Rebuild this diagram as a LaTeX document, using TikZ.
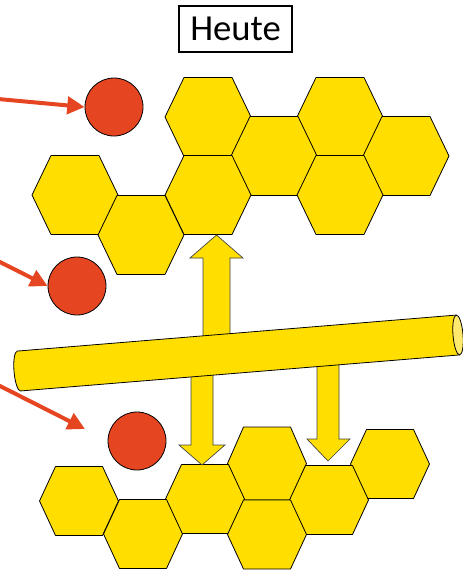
\documentclass[tikz,border=0pt]{standalone}
\usepackage{fontspec}
\newfontfamily\titlefont{Carlito}
\usetikzlibrary{arrows.meta}

\definecolor{honey}{RGB}{255,222,0}
\definecolor{honeycap}{RGB}{255,234,110}
\definecolor{ballred}{RGB}{230,69,34}

\tikzset{
  cell/.style={fill=honey, draw=black, line width=0.6pt, line join=round},
  blockarrow/.style={fill=honey, draw=black!75, line width=0.5pt, line join=miter},
  ball/.style={circle, fill=ballred, draw=black, line width=0.6pt, minimum size=43.5pt, inner sep=0pt},
  feed/.style={draw=ballred, line width=3pt, -{Triangle[length=13pt,width=13pt]}},
  uppercell/.pic={\path[cell] (-43,0) -- (-24,-39.5) -- (24,-39.5) -- (43,0) -- (24,39.5) -- (-24,39.5) -- cycle;},
  lowercell/.pic={\path[cell] (-39.5,0) -- (-23.5,-34.5) -- (23.5,-34.5) -- (39.5,0) -- (23.5,34.5) -- (-23.5,34.5) -- cycle;}
}

\begin{document}
\begin{tikzpicture}[x=0.75pt, y=-0.75pt]
  \useasboundingbox (0,0) rectangle (462,571);

  % upper honeycomb
  \pic at (208,117) {uppercell};
  \pic at (340,117) {uppercell};
  \pic at (274,156) {uppercell};
  \pic at (406,156) {uppercell};
  \pic at (75,195)  {uppercell};
  \pic at (208,195) {uppercell};
  \pic at (340,195) {uppercell};
  \pic at (141,235) {uppercell};

  % lower honeycomb
  \pic[yscale=1.058] at (267,463.5) {lowercell};
  \pic at (390,464) {lowercell};
  \pic at (79,501)  {lowercell};
  \pic at (205,499) {lowercell};
  \pic at (329,500) {lowercell};
  \pic at (143,534) {lowercell};
  \pic at (267,534.5) {lowercell};

  % block arrows to and from the tube
  \path[blockarrow] (203,345) -- (203,258) -- (190,258) -- (216.5,235)
        -- (243,258) -- (230,258) -- (230,345) -- cycle;
  \path[blockarrow] (191,365) -- (191,445) -- (179,445) -- (202,465)
        -- (225,445) -- (213,445) -- (213,365) -- cycle;
  \path[blockarrow] (317,355) -- (317,439) -- (307,439) -- (328,461)
        -- (350,439) -- (339,439) -- (339,355) -- cycle;

  % the tube
  \begin{scope}[shift={(19,371)}, rotate=4.69]
    \path[fill=honey, draw=black, line width=0.6pt] (0,0) ellipse [x radius=5, y radius=20];
    \fill[honey] (0,-20) rectangle (440.5,20);
    \draw[line width=0.6pt] (0,-20) -- (440.5,-20) (0,20) -- (440.5,20);
    \path[fill=honeycap, draw=black, line width=0.6pt] (440.5,0) ellipse [x radius=5, y radius=20];
  \end{scope}

  % balls
  \node[ball] (c1) at (114,107) {};
  \node[ball] (c2) at (77,286) {};
  \node[ball] (c3) at (137,441) {};

  % incoming arrows
  \coordinate (s1) at (-2,99);
  \coordinate (s2) at (-2,261);
  \coordinate (s3) at (-2,385);
  \coordinate (t3) at (85,429);
  \draw[feed] (s1) -- (c1.west);
  \draw[feed] (s2) -- (c2.west);
  \draw[feed] (s3) -- (t3);

  % title
  \node[draw=black, line width=1.2pt, minimum width=84.75pt, minimum height=34.5pt,
        inner sep=0pt, font=\titlefont\fontsize{27.5}{30}\selectfont] (title) at (235.5,29) {Heute};
\end{tikzpicture}
\end{document}
